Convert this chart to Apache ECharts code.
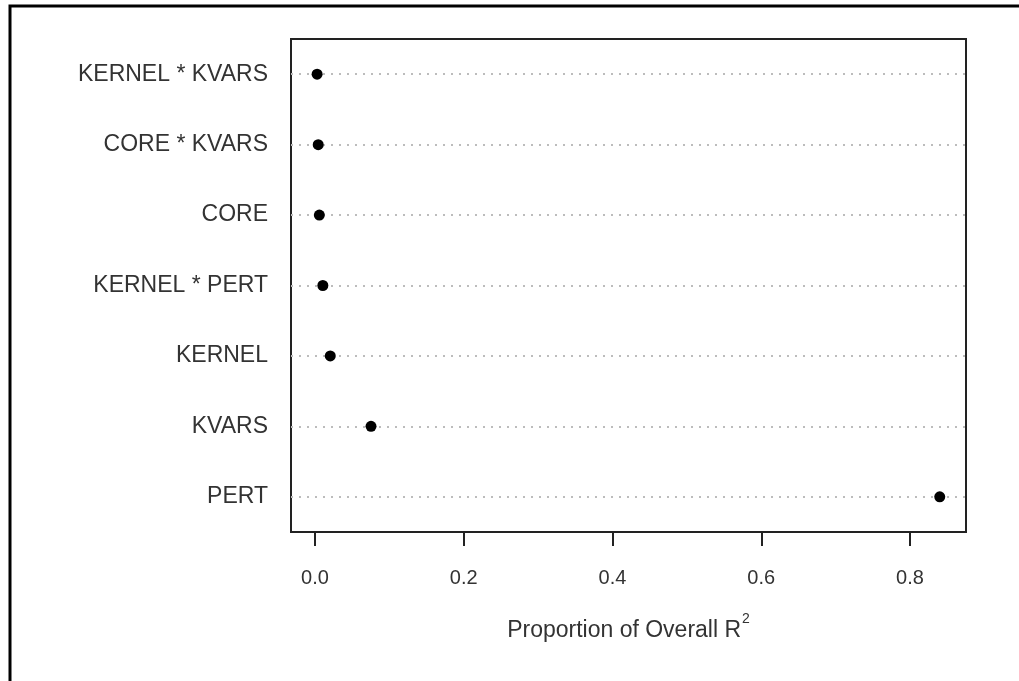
<!DOCTYPE html>
<html>
<head>
<meta charset="utf-8">
<script src="https://cdn.jsdelivr.net/npm/echarts@6/dist/echarts.min.js"></script>
<style>html,body{margin:0;padding:0;background:#fff;}#c{width:1019px;height:681px;}</style>
</head>
<body>
<div id="c"></div>
<script>
// categories listed bottom to top
const categories = ['PERT', 'KVARS', 'KERNEL', 'KERNEL * PERT', 'CORE', 'CORE * KVARS', 'KERNEL * KVARS'];
const values = [0.840, 0.0753, 0.0205, 0.0105, 0.0058, 0.0043, 0.0028];
const tickValues = [0, 0.2, 0.4, 0.6, 0.8];
const tickLabels = ['0.0', '0.2', '0.4', '0.6', '0.8'];

const FONT = 'Liberation Sans, Arial, sans-serif';
const chart = echarts.init(document.getElementById('c'), null, {renderer: 'canvas'});
chart.setOption({
  animation: false,
  backgroundColor: '#fff',
  graphic: [{
    type: 'rect', shape: {x: 10, y: 6, width: 1200, height: 900},
    style: {fill: 'none', stroke: '#000', lineWidth: 3}, silent: true, z: 100
  }],
  grid: {left: 291, top: 39, width: 675, height: 493, show: true, borderColor: '#222', borderWidth: 2, backgroundColor: 'transparent'},
  xAxis: {
    type: 'value', min: -0.0323, max: 0.8753,
    axisLine: {show: false},
    splitLine: {show: false},
    axisTick: {show: true, length: 14, inside: false, lineStyle: {color: '#222', width: 2}, customValues: tickValues},
    axisLabel: {
      customValues: tickValues, margin: 36, fontSize: 20, color: '#333', fontFamily: FONT,
      formatter: function (v) { const i = tickValues.findIndex(t => Math.abs(t - v) < 1e-9); return i >= 0 ? tickLabels[i] : ''; }
    },
    name: '{m|Proportion of Overall R}{sup|2}',
    nameLocation: 'middle', nameGap: 80,
    nameTextStyle: {fontSize: 23, color: '#333', fontFamily: FONT,
      rich: {
        m: {fontSize: 23, lineHeight: 30, verticalAlign: 'bottom', color: '#333', fontFamily: FONT},
        sup: {fontSize: 14, lineHeight: 30, verticalAlign: 'top', padding: [0, 0, 0, 1], color: '#333', fontFamily: FONT}
      }}
  },
  yAxis: {
    type: 'category', data: categories,
    axisLine: {show: false}, axisTick: {show: false}, splitLine: {show: false},
    axisLabel: {margin: 23, fontSize: 23, color: '#333', fontFamily: FONT}
  },
  series: [{
    type: 'scatter', data: values.map((v, i) => [v, categories[i]]),
    symbol: 'circle', symbolSize: 11,
    itemStyle: {color: '#000', opacity: 1},
    z: 5,
    markLine: {
      silent: true, symbol: 'none', label: {show: false},
      lineStyle: {color: '#bcbcbc', type: [2, 6], width: 2, opacity: 1},
      data: categories.map(c => ({yAxis: c}))
    }
  }]
});
</script>
</body>
</html>
